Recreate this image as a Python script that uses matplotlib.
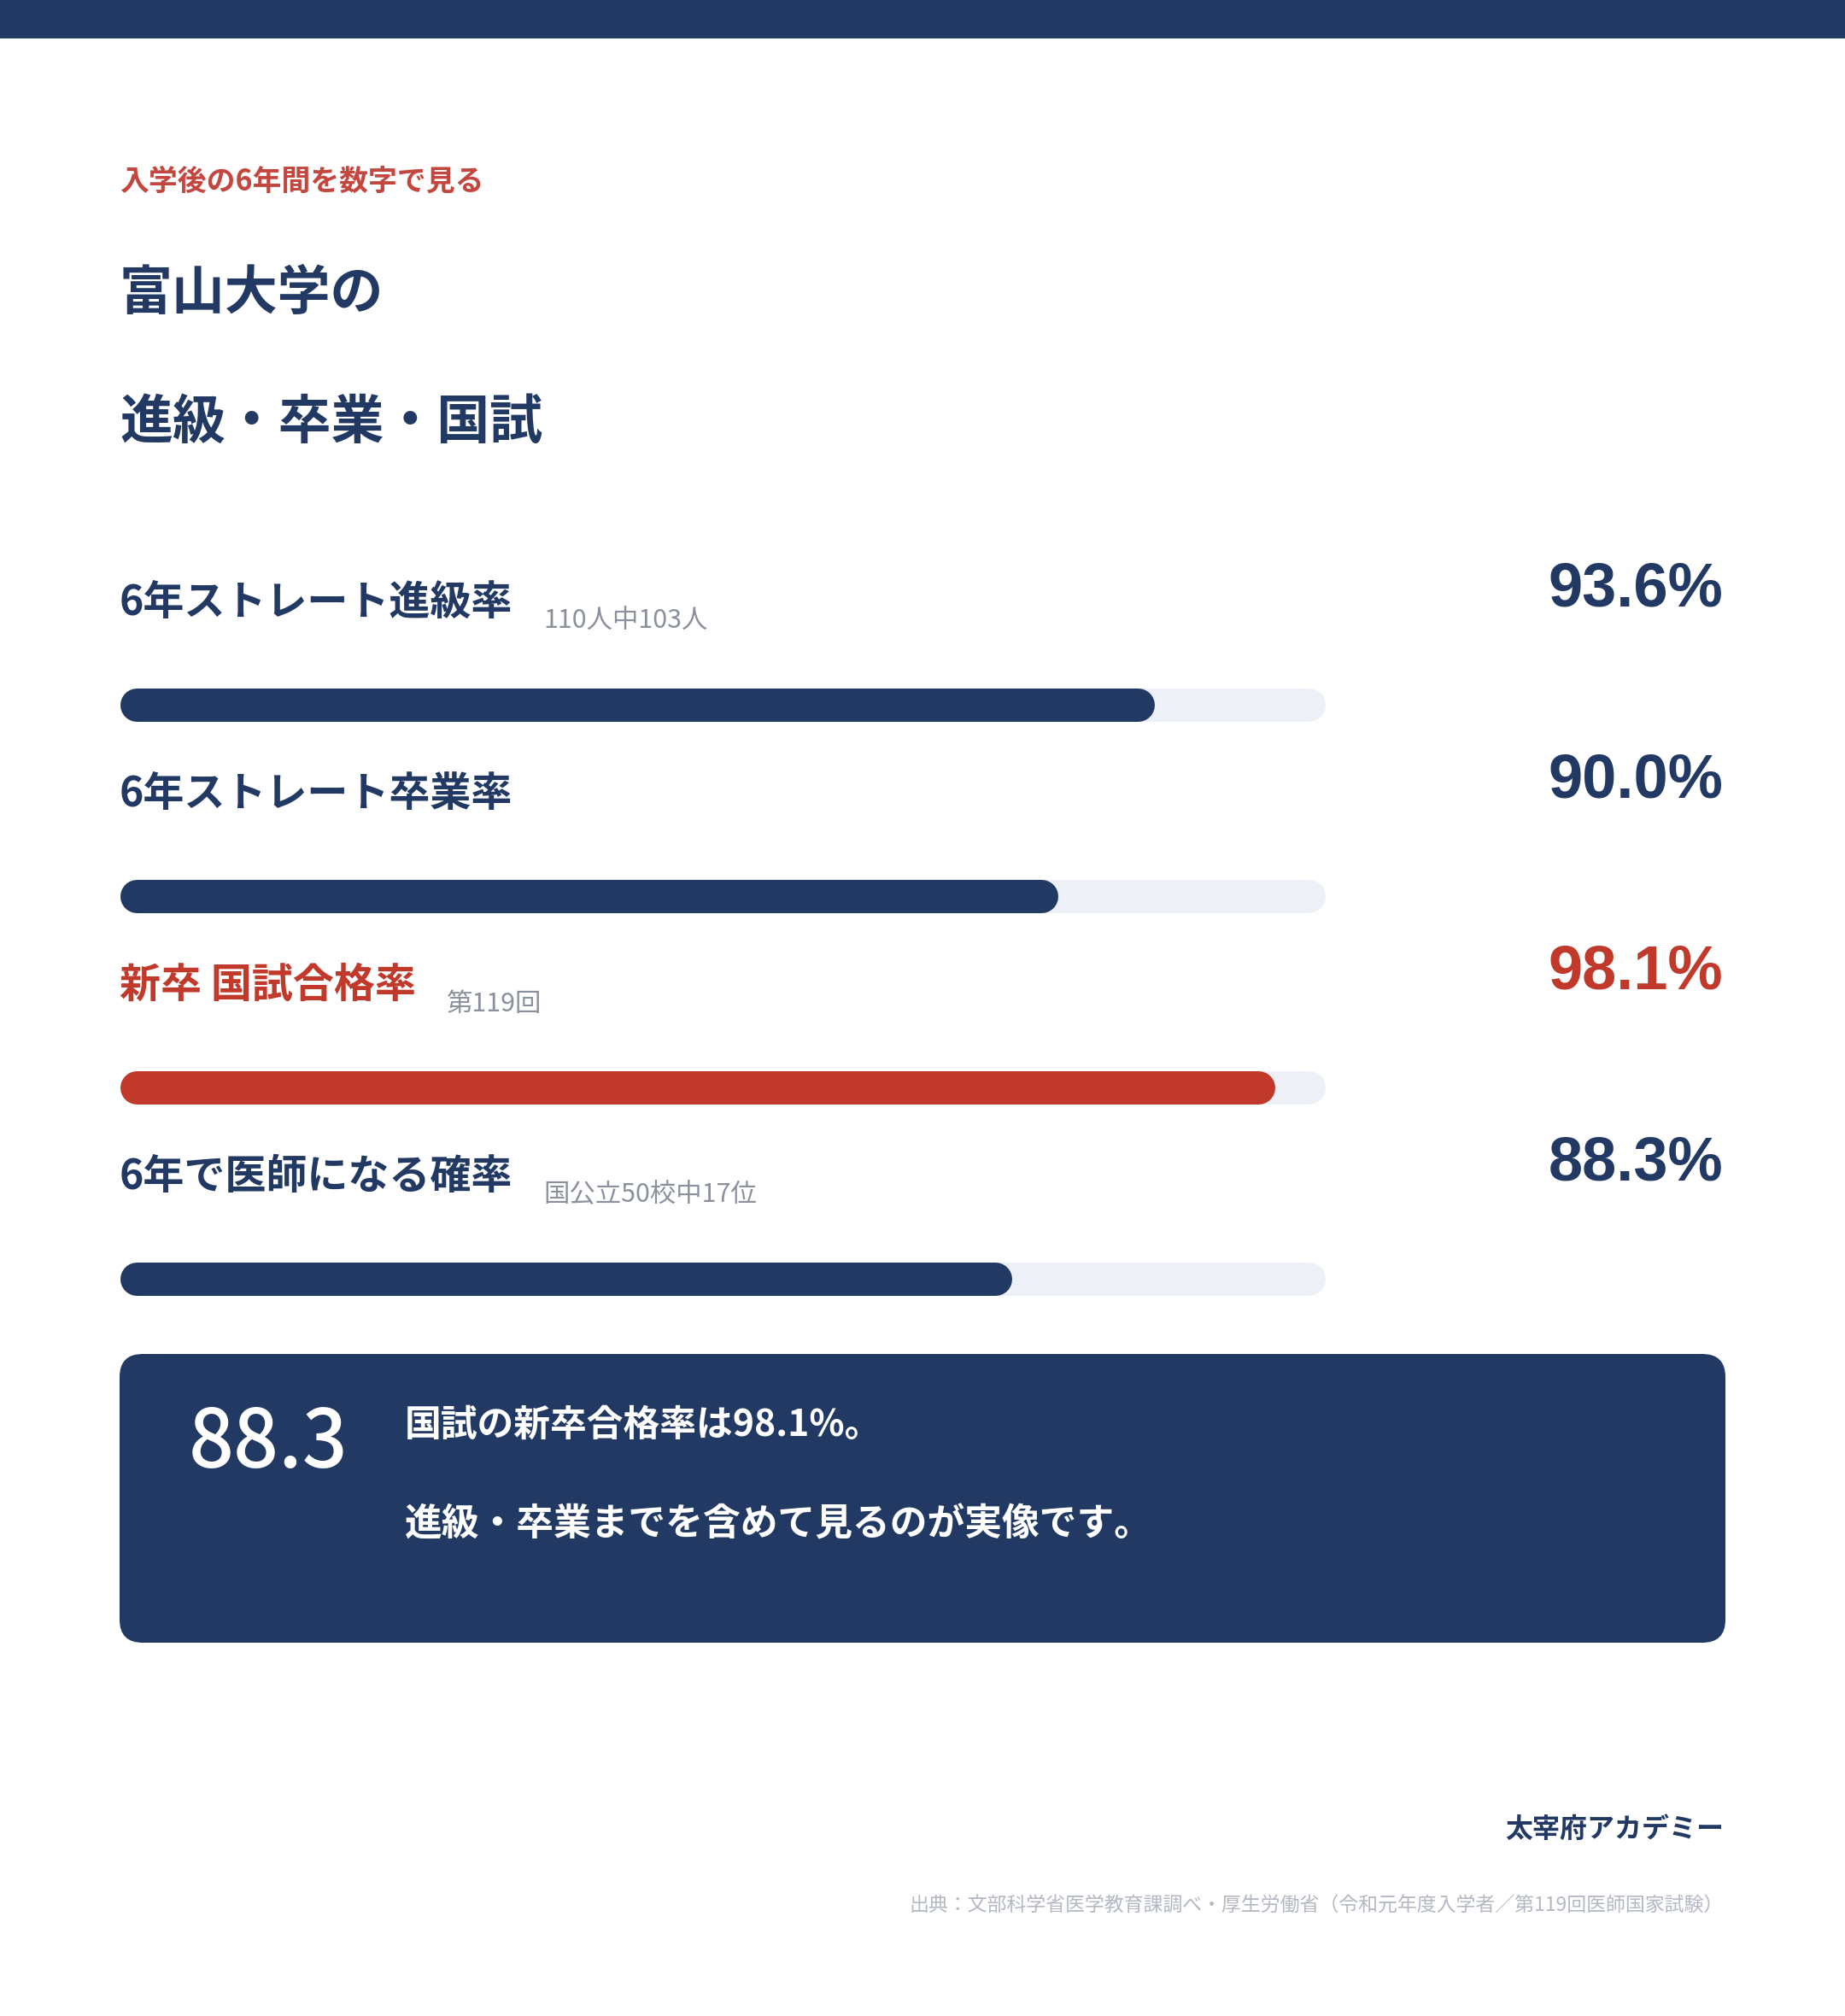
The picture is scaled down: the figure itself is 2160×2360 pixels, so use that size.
import matplotlib
matplotlib.use("Agg")
import matplotlib.pyplot as plt
from matplotlib.patches import FancyBboxPatch, Rectangle

plt.rcParams['font.family'] = ['Noto Sans CJK JP', 'DejaVu Sans']

# データ
labels = ["6年ストレート進級率", "6年ストレート卒業率", "新卒 国試合格率", "6年で医師になる確率"]
notes = ["110人中103人", "", "第119回", "国公立50校中17位"]
values = [93.6, 90.0, 98.1, 88.3]
highlight = [False, False, True, False]
scale_min, scale_max = 55, 100

kicker = "入学後の6年間を数字で見る"
title_lines = ["富山大学の", "進級・卒業・国試"]
box_number = "88.3"
box_lines = ["国試の新卒合格率は98.1%。", "進級・卒業までを含めて見るのが実像です。"]
brand = "太宰府アカデミー"
source = "出典：文部科学省医学教育課調べ・厚生労働省（令和元年度入学者／第119回医師国家試験）"

NAVY = "#213963"
RED = "#c0392b"
KICKER_RED = "#c4473f"
TRACK = "#edf0f7"
GRAY = "#8a909c"
LIGHT = "#b3b8c2"

W, H = 2160, 2360
fig = plt.figure(figsize=(W / 100, H / 100), dpi=100)
fig.patch.set_facecolor("white")


def fx(x):
    return x / W


def fy(y):
    return 1 - y / H


# 背景用の軸（ピクセル座標）
bg = fig.add_axes([0, 0, 1, 1])
bg.set_xlim(0, W)
bg.set_ylim(H, 0)
bg.axis("off")
bg.add_patch(Rectangle((0, 0), W, 45, color=NAVY, lw=0))
bg.add_patch(FancyBboxPatch((140 + 27, 1585 + 27), 1880 - 54, 338 - 54,
                            boxstyle="round,pad=27", fc=NAVY, ec="none"))

# 見出し
fig.text(fx(140), fy(212), kicker, color=KICKER_RED, fontsize=24.4,
         fontweight="bold", va="center")
fig.text(fx(140), fy(343), title_lines[0], color=NAVY, fontsize=44.6,
         fontweight="bold", va="center")
fig.text(fx(140), fy(494), title_lines[1], color=NAVY, fontsize=44.6,
         fontweight="bold", va="center")

# バー
row_top, row_gap = 825, 224
bar_px = 39
x0, x1 = 140, 1552
y_lo = row_top - row_gap / 2
y_hi = row_top + row_gap * (len(values) - 0.5)
ax = fig.add_axes([fx(x0), fy(y_hi), (x1 - x0) / W, (y_hi - y_lo) / H])
ax.set_xlim(scale_min, scale_max)
ax.set_ylim(len(values) - 0.5, -0.5)
ax.axis("off")
cap = (bar_px / 2) * (scale_max - scale_min) / (x1 - x0)
lw = bar_px * 72 / 100
for i, v in enumerate(values):
    c = RED if highlight[i] else NAVY
    ax.plot([scale_min + cap, scale_max - cap], [i, i], color=TRACK, lw=lw,
            solid_capstyle="round")
    ax.plot([scale_min + cap, v - cap], [i, i], color=c, lw=lw,
            solid_capstyle="round")

fig.canvas.draw()
r = fig.canvas.get_renderer()
for i, (lab, note, v) in enumerate(zip(labels, notes, values)):
    c = RED if highlight[i] else NAVY
    yc = row_top + row_gap * i
    t = fig.text(fx(140), fy(yc - 120), lab, color=c, fontsize=34.6,
                 fontweight="bold", va="center")
    if note:
        bb = t.get_window_extent(renderer=r)
        fig.text(fx(bb.x1 + 36), fy(yc - 98), note, color=GRAY,
                 fontsize=21.9, va="center")
    fig.text(fx(2017), fy(yc - 134), f"{v:.1f}%", color=c, fontsize=52,
             fontweight="bold", family=["Liberation Sans", "DejaVu Sans"],
             ha="right", va="center")

# まとめボックス
fig.text(fx(221), fy(1691), box_number, color="white", fontsize=67,
         fontweight="medium", va="center")
fig.text(fx(474), fy(1668), box_lines[0], color="white", fontsize=30.8,
         fontweight="bold", va="center")
fig.text(fx(474), fy(1784), box_lines[1], color="white", fontsize=31.5,
         fontweight="bold", va="center")

# フッター
fig.text(fx(2018), fy(2142), brand, color=NAVY, fontsize=23,
         fontweight="bold", ha="right", va="center")
fig.text(fx(2018), fy(2231), source, color=LIGHT, fontsize=16.5,
         ha="right", va="center")

fig.savefig("out.png", dpi=100, facecolor="white")
